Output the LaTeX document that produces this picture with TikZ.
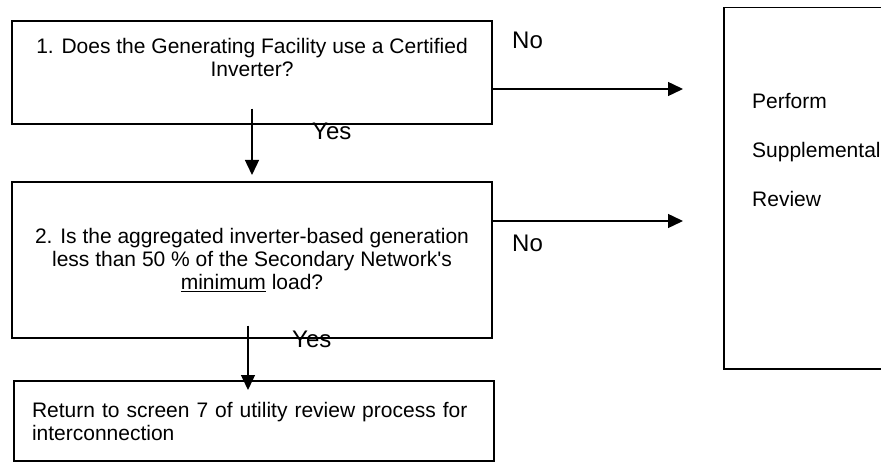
\documentclass[tikz,border=0pt]{standalone}
\usepackage{fontspec}
\setmainfont{Liberation Sans}
\usetikzlibrary{positioning,arrows.meta}

\begin{document}
\begin{tikzpicture}[x=1pt, y=-1pt,
    box/.style={draw, line width=1.5pt, inner sep=0pt},
    boxtext/.style={inner sep=0pt, font=\fontsize{21}{23}\selectfont},
    answer/.style={inner sep=0pt, anchor=base west, font=\fontsize{24}{28}\selectfont},
    flow/.style={line width=1.4pt, -{Triangle[length=15pt, width=14pt]}}]
  \useasboundingbox (0,0) rectangle (881,462);

  \node [box, minimum width=480pt, minimum height=103pt] (q1) at (252,72.5) {};
  \node [boxtext, align=center, anchor=north] (q1txt) at (252,38.5) {1. Does the Generating Facility use a Certified\\Inverter?};
  \node [box, boxtext, align=center, minimum width=480pt, minimum height=156pt] (q2) at (252,260) {2. Is the aggregated inverter-based generation\\less than 50 \% of the Secondary Network\textquotesingle s\\\underline{minimum} load?};
  \node [box, boxtext, align=left, text width=444pt, inner xsep=18pt, minimum height=80pt] (ret) at (254,421) {Return to screen 7 of utility review process for\\interconnection};
  \node [box, minimum width=180pt, minimum height=361pt, anchor=north west] (supp) at (723,7) {};
  \node [boxtext, align=left, anchor=north west, font=\fontsize{21}{49}\selectfont] (supptxt) at (752,93.5) {Perform\\Supplemental\\Review};

  \coordinate (yes1) at (252,175);
  \coordinate (yes2) at (248,390);
  \coordinate (no1) at (683,89);
  \coordinate (no2) at (683,221);

  \draw [flow] ([yshift=16pt]q1.south) -- (yes1);
  \draw [flow] ([xshift=-4pt, yshift=13pt]q2.south) -- (yes2);
  \draw [flow] (q1.east |- no1) -- (no1);
  \draw [flow] (q2.east |- no2) -- (no2);

  \node [answer] (yes1lbl) at (312,140) {Yes};
  \node [answer] (yes2lbl) at (292,348) {Yes};
  \node [answer] (no1lbl) at (512,49) {No};
  \node [answer] (no2lbl) at (512,252) {No};
\end{tikzpicture}
\end{document}
